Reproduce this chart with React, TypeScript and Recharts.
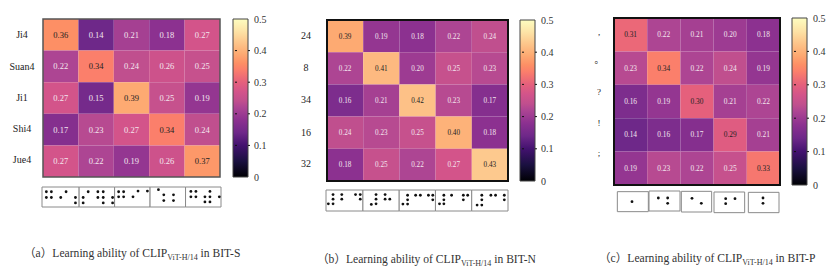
import { ScatterChart, Scatter, XAxis, YAxis, ReferenceArea } from "recharts";

const SERIF = '"Liberation Serif", serif';

const labelsA = ["Ji4", "Suan4", "Ji1", "Shi4", "Jue4"];
const labelsB = ["24", "8", "34", "16", "32"];
const labelsC = [",", "。", "?", "!", ";"];

// where the row labels sit, in row units (they are not centred in the source figure)
const labelRowsA = [0.49, 1.5, 2.48, 3.45, 4.46];
const labelRowsB = [0.47, 1.49, 2.48, 3.5, 4.47];
const labelRowsC = [0.42, 1.25, 2.22, 3.15, 4.05];

const matrixA = [
  [0.36, 0.14, 0.21, 0.18, 0.27],
  [0.22, 0.34, 0.24, 0.26, 0.25],
  [0.27, 0.15, 0.39, 0.25, 0.19],
  [0.17, 0.23, 0.27, 0.34, 0.24],
  [0.27, 0.22, 0.19, 0.26, 0.37],
];
const matrixB = [
  [0.39, 0.19, 0.18, 0.22, 0.24],
  [0.22, 0.41, 0.2, 0.25, 0.23],
  [0.16, 0.21, 0.42, 0.23, 0.17],
  [0.24, 0.23, 0.25, 0.4, 0.18],
  [0.18, 0.25, 0.22, 0.27, 0.43],
];
const matrixC = [
  [0.31, 0.22, 0.21, 0.2, 0.18],
  [0.23, 0.34, 0.22, 0.24, 0.19],
  [0.16, 0.19, 0.3, 0.21, 0.22],
  [0.14, 0.16, 0.17, 0.29, 0.21],
  [0.19, 0.23, 0.22, 0.25, 0.33],
];

const barTicks = [0, 0.1, 0.2, 0.3, 0.4, 0.5];

// braille dots
const dotsA = [
  [50, 52], [65, 52], [50, 69], [65, 69], [93, 69], [109, 52], [137, 69], [137, 85],
  [160, 69], [175, 52], [160, 85], [204, 52], [220, 52], [204, 69], [220, 69], [220, 85], [248, 69], [248, 85],
  [266, 52], [281, 52], [266, 67], [281, 67], [309, 67], [324, 50], [352, 50],
  [385, 46], [401, 61], [401, 78], [430, 61], [430, 78],
  [482, 51], [497, 51], [482, 67], [497, 67], [524, 67], [539, 51], [539, 67], [524, 82], [539, 82], [567, 67],
];
const dotsB = [
  [41, 58], [67, 58], [41, 72], [67, 72], [27, 86], [41, 86], [108, 58], [122, 58], [122, 72],
  [169, 58], [196, 58], [169, 72], [196, 72], [210, 72], [169, 86], [155, 88],
  [263, 60], [287, 60], [301, 60], [325, 60], [338, 60], [338, 74], [263, 74], [263, 87], [249, 87],
  [371, 60], [394, 60], [429, 60], [442, 60], [429, 74], [371, 74], [371, 86], [358, 86],
  [484, 60], [511, 60], [525, 60], [551, 60], [551, 74], [484, 74], [484, 90], [470, 90],
];
const dotsC = [
  [66, 80],
  [145, 69], [173, 69], [173, 85],
  [246, 70], [274, 85],
  [347, 71], [375, 71], [347, 86],
  [459, 69], [459, 85],
];

const boxesA = [[37, 148, 38, 97], [148, 254, 38, 97], [254, 360, 38, 97], [360, 466, 38, 97], [466, 572, 38, 97]];
const boxesB = [[20, 130, 44, 108], [130, 238, 44, 108], [238, 346, 44, 108], [346, 454, 44, 108], [454, 562, 44, 108]];
const boxesC = [[22, 115, 50, 110], [117, 210, 48, 108], [214, 305, 49, 111], [312, 404, 51, 113], [415, 507, 52, 113]];

// washed-out magma, sampled from the reference colorbar and cells
const rampValues = [0, 0.05, 0.1, 0.14, 0.18, 0.22, 0.24, 0.27, 0.3, 0.34, 0.36, 0.39, 0.43, 0.46, 0.5];
const rampColors = ["#000004", "#1a1040", "#43126f", "#6e2889", "#8c3190", "#ad4593", "#c04f8e", "#d3548a", "#e5607c", "#fb7f6b", "#fd8f65", "#fdaa72", "#fdc98e", "#fde2a5", "#fdfdc0"];

function rampColor(v: number) {
  let i = 0;
  while (i < rampValues.length - 2 && v > rampValues[i + 1]) i++;
  const f = (v - rampValues[i]) / (rampValues[i + 1] - rampValues[i]);
  const a = rampColors[i];
  const b = rampColors[i + 1];
  const mix = (s: number) => {
    const c1 = parseInt(a.slice(s, s + 2), 16);
    const c2 = parseInt(b.slice(s, s + 2), 16);
    return Math.round(c1 + (c2 - c1) * f);
  };
  return `rgb(${mix(1)},${mix(3)},${mix(5)})`;
}

interface HeatProps {
  left: number;
  top: number;
  width: number;
  height: number;
  matrix: number[][];
  labels: string[];
  labelRows: number[];
  labelX: number;
  labelSize: number;
  valueSize: number;
  border: string;
  borderWidth: number;
  darkFrom: number;
}

const AXIS_W = 40;
const PAD = 2;
const BAR_PAD = 8;

function Heatmap({ left, top, width, height, matrix, labels, labelRows, labelX, labelSize, valueSize, border, borderWidth, darkFrom }: HeatProps) {
  const points = matrix.flatMap((row, r) => row.map((v, c) => ({ x: c + 0.5, y: r + 0.5, v })));
  return (
    <div style={{ position: "absolute", left: left - AXIS_W, top: top - PAD }}>
      <ScatterChart
        width={width + AXIS_W + PAD}
        height={height + PAD * 2}
        margin={{ top: PAD, right: PAD, bottom: PAD, left: 0 }}
      >
        <XAxis type="number" dataKey="x" domain={[0, 5]} hide />
        <YAxis
          type="number"
          dataKey="y"
          domain={[0, 5]}
          reversed
          width={AXIS_W}
          ticks={labelRows}
          interval={0}
          axisLine={false}
          tickLine={false}
          tick={(p: any) => (
            <text
              x={AXIS_W - labelX}
              y={p.y}
              dy="0.35em"
              textAnchor="middle"
              fontFamily={`${SERIF}, "Noto Sans CJK SC"`}
              fontSize={labelSize}
              fill="#222"
            >
              {labels[labelRows.indexOf(p.payload.value)]}
            </text>
          )}
        />
        {points.map((d) => (
          <ReferenceArea
            key={`${d.x}-${d.y}`}
            x1={d.x - 0.5}
            x2={d.x + 0.5}
            y1={d.y - 0.5}
            y2={d.y + 0.5}
            fill={rampColor(d.v)}
            fillOpacity={1}
            stroke="none"
          />
        ))}
        <ReferenceArea x1={0} x2={5} y1={0} y2={5} fill="none" stroke={border} strokeWidth={borderWidth} />
        <Scatter
          data={points}
          isAnimationActive={false}
          shape={(p: any) => (
            <text
              x={p.cx}
              y={p.cy}
              dy="0.35em"
              textAnchor="middle"
              fontFamily={SERIF}
              fontSize={valueSize}
              fill={p.payload.v >= darkFrom ? "#222" : "#f3e6ee"}
            >
              {p.payload.v.toFixed(2)}
            </text>
          )}
        />
      </ScatterChart>
    </div>
  );
}

function ColorBar({ id, left, top, width, height, size }: { id: string; left: number; top: number; width: number; height: number; size: number }) {
  const dummy = barTicks.map((t) => ({ x: 0.5, y: t }));
  return (
    <div style={{ position: "absolute", left: left - 1, top: top - BAR_PAD }}>
      <ScatterChart width={width + 1 + 26} height={height + BAR_PAD * 2} margin={{ top: BAR_PAD, right: 0, bottom: BAR_PAD, left: 1 }}>
        <defs>
          <linearGradient id={id} x1="0" y1="1" x2="0" y2="0">
            {rampValues.map((v, i) => (
              <stop key={v} offset={v / 0.5} stopColor={rampColors[i]} />
            ))}
          </linearGradient>
        </defs>
        <XAxis type="number" dataKey="x" domain={[0, 1]} hide />
        <ReferenceArea x1={0} x2={1} y1={0} y2={0.5} fill={`url(#${id})`} fillOpacity={1} stroke="#444" strokeWidth={1} />
        <YAxis
          type="number"
          dataKey="y"
          domain={[0, 0.5]}
          orientation="right"
          width={26}
          ticks={barTicks}
          interval={0}
          axisLine={false}
          tickLine={false}
          tickSize={0}
          tick={(p: any) => (
            <g>
              {p.payload.value > 0 && p.payload.value < 0.5 && (
                <g>
                  <line x1={p.x - 2} x2={p.x} y1={p.y} y2={p.y} stroke="#111" strokeWidth={1} />
                  <line x1={p.x - width} x2={p.x - width + 2} y1={p.y} y2={p.y} stroke="#111" strokeWidth={1} />
                </g>
              )}
              <text x={p.x + 4} y={p.y} dy="0.35em" fontFamily={SERIF} fontSize={size} fill="#333">
                {p.payload.value === 0 ? "0" : p.payload.value.toFixed(1)}
              </text>
            </g>
          )}
        />
        <Scatter data={dummy} isAnimationActive={false} shape={() => <g />} />
      </ScatterChart>
    </div>
  );
}

interface StripProps {
  left: number;
  top: number;
  width: number;
  height: number;
  domainX: number[];
  domainY: number[];
  dots: number[][];
  boxes: number[][];
}

function BrailleStrip({ left, top, width, height, domainX, domainY, dots, boxes }: StripProps) {
  const data = dots.map(([x, y]) => ({ x, y }));
  return (
    <div style={{ position: "absolute", left: left - PAD, top: top - PAD }}>
      <ScatterChart width={width + PAD * 2} height={height + PAD * 2} margin={{ top: PAD, right: PAD, bottom: PAD, left: PAD }}>
        <XAxis type="number" dataKey="x" domain={domainX} hide />
        <YAxis type="number" dataKey="y" domain={domainY} reversed hide />
        {boxes.map(([x1, x2, y1, y2]) => (
          <ReferenceArea key={x1} x1={x1} x2={x2} y1={y1} y2={y2} fill="#fff" fillOpacity={1} stroke="#8a8a8a" strokeWidth={1} />
        ))}
        <Scatter
          data={data}
          isAnimationActive={false}
          shape={(p: any) => <circle cx={p.cx} cy={p.cy} r={1.4} fill="#111" />}
        />
      </ScatterChart>
    </div>
  );
}

function Caption({ left, top, tag, name }: { left: number; top: number; tag: string; name: string }) {
  return (
    <div
      style={{
        position: "absolute",
        left,
        top,
        fontFamily: `${SERIF}, "Noto Sans CJK SC"`,
        fontSize: 11.6,
        lineHeight: "14px",
        color: "#333",
        whiteSpace: "nowrap",
      }}
    >
      （{tag}）Learning ability of CLIP
      <sub style={{ fontSize: 8, lineHeight: 0 }}>ViT-H/14</sub> in {name}
    </div>
  );
}

export default function App() {
  return (
    <div style={{ position: "absolute", left: 0, top: 0, width: 830, height: 278, background: "#fff", overflow: "hidden" }}>
      <Heatmap left={43} top={19} width={177} height={158} matrix={matrixA} labels={labelsA} labelRows={labelRowsA} labelX={21} labelSize={10} valueSize={8.5} border="#555" borderWidth={1.5} darkFrom={0.34} />
      <ColorBar id="barA" left={233} top={19} width={15} height={158} size={10} />
      <BrailleStrip left={42} top={187} width={179} height={20} domainX={[37, 572]} domainY={[38, 97]} dots={dotsA} boxes={boxesA} />
      <Caption left={24} top={247} tag="a" name="BIT-S" />

      <Heatmap left={327} top={20} width={181} height={161} matrix={matrixB} labels={labelsB} labelRows={labelRowsB} labelX={21} labelSize={10} valueSize={7.2} border="#111" borderWidth={2} darkFrom={0.39} />
      <ColorBar id="barB" left={520} top={20} width={15} height={161} size={10} />
      <BrailleStrip left={326} top={190} width={182} height={21} domainX={[20, 562]} domainY={[44, 108]} dots={dotsB} boxes={boxesB} />
      <Caption left={317} top={253} tag="b" name="BIT-N" />

      <Heatmap left={614} top={18} width={166} height={167} matrix={matrixC} labels={labelsC} labelRows={labelRowsC} labelX={15} labelSize={9} valueSize={7.4} border="#111" borderWidth={2} darkFrom={0.29} />
      <ColorBar id="barC" left={792} top={18} width={15} height={167} size={10} />
      <BrailleStrip left={610} top={175} width={210} height={50} domainX={[0, 630]} domainY={[0, 150]} dots={dotsC} boxes={boxesC} />
      <Caption left={599} top={252} tag="c" name="BIT-P" />
    </div>
  );
}
